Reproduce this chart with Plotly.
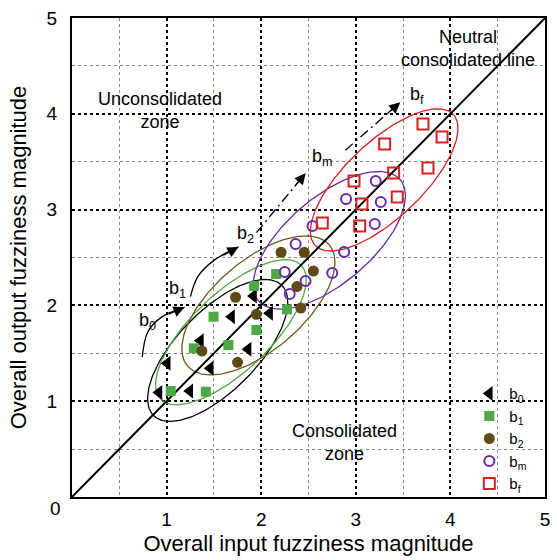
import numpy as np
import plotly.graph_objects as go

# ---- data ----
b0_x = [0.92, 1.245, 1.007, 1.461, 1.357, 1.862, 1.687, 1.919, 2.089]
b0_y = [1.09, 1.106, 1.396, 1.343, 1.632, 1.542, 1.882, 2.098, 1.918]
b1_x = [1.043, 1.415, 1.287, 1.653, 1.496, 1.949, 1.925, 2.158, 2.273]
b1_y = [1.106, 1.099, 1.552, 1.587, 1.882, 1.743, 2.203, 2.328, 1.959]
b2_x = [1.373, 1.75, 1.729, 1.949, 2.21, 2.455, 2.552, 2.378, 2.419]
b2_y = [1.524, 1.406, 2.085, 1.907, 2.554, 2.554, 2.359, 2.197, 1.973]
bm_x = [2.542, 2.364, 2.877, 2.249, 2.751, 2.469, 2.301, 3.211, 2.897, 3.264, 3.201]
bm_y = [2.829, 2.641, 2.557, 2.349, 2.338, 2.255, 2.119, 3.299, 3.111, 3.079, 2.850]
bf_x = [3.710, 3.912, 3.305, 3.763, 3.400, 2.981, 3.438, 3.065, 2.646, 3.041]
bf_y = [3.894, 3.758, 3.685, 3.434, 3.382, 3.299, 3.132, 3.058, 2.860, 2.829]

series_names = ["b<sub>0</sub>", "b<sub>1</sub>", "b<sub>2</sub>", "b<sub>m</sub>", "b<sub>f</sub>"]

# confidence ellipses: centre x, centre y, semi-major, semi-minor, angle (deg)
ell_cx = [1.54, 1.68, 1.97, 2.72, 3.30]
ell_cy = [1.53, 1.72, 2.00, 2.68, 3.31]
ell_a = [0.96, 1.02, 0.98, 0.98, 1.00]
ell_b = [0.42, 0.41, 0.47, 0.45, 0.40]
ell_ang = [45, 43, 40, 40, 43]

tick_vals = [1, 2, 3, 4, 5]
minor_vals = [0.5, 1.5, 2.5, 3.5, 4.5]

# evolution arrows (curves) and labels
arc_b0_x = [0.743, 0.80, 0.95, 1.19]
arc_b0_y = [1.461, 1.72, 1.88, 1.98]
arc_b1_x = [1.252, 1.33, 1.50, 1.76]
arc_b1_y = [2.091, 2.30, 2.47, 2.61]
dd1_x = [1.95, 2.47]
dd1_y = [2.76, 3.38]
dd2_x = [2.89, 3.47]
dd2_y = [3.62, 4.12]
lab_x = [0.795, 1.119, 1.83, 2.646, 3.65]
lab_y = [1.827, 2.161, 2.745, 3.539, 4.196]

colors = ["#000000", "#4ea844", "#5e4a15", "#6a2aa8", "#d82020"]
ell_colors = ["#000000", "#4ea844", "#6e5a1e", "#6a2aa8", "#d82020"]

FONT = "Liberation Sans, Arial, sans-serif"
fig = go.Figure()

t = np.linspace(0, 2 * np.pi, 200)
for cx, cy, a, b, ang, c in zip(ell_cx, ell_cy, ell_a, ell_b, ell_ang, ell_colors):
    th = np.deg2rad(ang)
    ex = cx + a * np.cos(t) * np.cos(th) - b * np.sin(t) * np.sin(th)
    ey = cy + a * np.cos(t) * np.sin(th) + b * np.sin(t) * np.cos(th)
    fig.add_trace(go.Scatter(x=ex, y=ey, mode="lines", line=dict(color=c, width=1.3),
                             showlegend=False, hoverinfo="skip"))

# neutral line
fig.add_trace(go.Scatter(x=[0, 5], y=[0, 5], mode="lines", line=dict(color="black", width=2),
                         showlegend=False, hoverinfo="skip"))

# arcs
for ax_, ay_ in [(arc_b0_x, arc_b0_y), (arc_b1_x, arc_b1_y)]:
    fig.add_trace(go.Scatter(x=ax_, y=ay_, mode="lines", line=dict(color="black", width=1.3, shape="spline"),
                             showlegend=False, hoverinfo="skip"))
for dx, dy in [(dd1_x, dd1_y), (dd2_x, dd2_y)]:
    fig.add_trace(go.Scatter(x=dx, y=dy, mode="lines", line=dict(color="black", width=1.3, dash="10px,4px,2px,4px"),
                             showlegend=False, hoverinfo="skip"))

# arrowheads
for hx, hy, tx, ty in [(arc_b0_x[-1], arc_b0_y[-1], arc_b0_x[-2], arc_b0_y[-2]),
                       (arc_b1_x[-1], arc_b1_y[-1], arc_b1_x[-2], arc_b1_y[-2]),
                       (dd1_x[-1], dd1_y[-1], dd1_x[0], dd1_y[0]),
                       (dd2_x[-1], dd2_y[-1], dd2_x[0], dd2_y[0])]:
    d = np.hypot(hx - tx, hy - ty)
    ux, uy = (hx - tx) / d, (hy - ty) / d
    fig.add_annotation(x=hx, y=hy, ax=hx - 0.2 * ux, ay=hy - 0.2 * uy,
                       xref="x", yref="y", axref="x", ayref="y", text="", showarrow=True,
                       arrowhead=2, arrowsize=1.7, arrowwidth=1.3, arrowcolor="black")

# data series
fig.add_trace(go.Scatter(x=b0_x, y=b0_y, mode="markers", name=series_names[0],
                         marker=dict(symbol="triangle-left", size=13, color=colors[0])))
fig.add_trace(go.Scatter(x=b1_x, y=b1_y, mode="markers", name=series_names[1],
                         marker=dict(symbol="square", size=10, color=colors[1])))
fig.add_trace(go.Scatter(x=b2_x, y=b2_y, mode="markers", name=series_names[2],
                         marker=dict(symbol="circle", size=11, color=colors[2])))
fig.add_trace(go.Scatter(x=bm_x, y=bm_y, mode="markers", name=series_names[3],
                         marker=dict(symbol="circle-open", size=10, color=colors[3], line=dict(width=2))))
fig.add_trace(go.Scatter(x=bf_x, y=bf_y, mode="markers", name=series_names[4],
                         marker=dict(symbol="square-open", size=11, color=colors[4], line=dict(width=2))))

# labels for arrows
for lx, ly, txt in zip(lab_x, lab_y, series_names):
    fig.add_annotation(x=lx, y=ly, text=txt, showarrow=False, font=dict(family=FONT, size=18, color="black"))

# zone texts
fig.add_annotation(x=(161 - 72) / 95.6, y=(497 - 110) / 95.8, text="Unconsolidated<br>zone", showarrow=False,
                   font=dict(family=FONT, size=18, color="black"))
fig.add_annotation(x=(347 - 72) / 95.6, y=(497 - 442) / 95.8, text="Consolidated<br>zone", showarrow=False,
                   font=dict(family=FONT, size=18, color="black"))
fig.add_annotation(x=(472 - 72) / 95.6, y=(497 - 48) / 95.8, text="Neutral<br>consolidated line", showarrow=False,
                   font=dict(family=FONT, size=18, color="black"))
fig.add_annotation(x=0, y=0, xref="paper", yref="paper", text="0", showarrow=False,
                   xanchor="right", yanchor="middle", xshift=-9, yshift=-11,
                   font=dict(family=FONT, size=19, color="black"))

def axis_common(ticklen):
    return dict(range=[0, 5], tickvals=tick_vals, showline=True, mirror=True, linecolor="black",
                linewidth=2, showgrid=True, gridcolor="black", griddash="dot", gridwidth=1.5,
                zeroline=False, ticks="outside", ticklen=ticklen, tickcolor="rgba(0,0,0,0)",
                tickfont=dict(family=FONT, size=19, color="black"),
                minor=dict(tickvals=minor_vals, showgrid=True, gridcolor="#888", griddash="dot",
                           gridwidth=1, ticks=""))

fig.update_layout(
    width=557, height=560,
    margin=dict(l=72, r=7, t=18, b=63),
    plot_bgcolor="white", paper_bgcolor="white",
    font=dict(family=FONT, size=16, color="black"),
    xaxis=dict(**axis_common(4), title=dict(text="Overall input fuzziness magnitude",
                                            font=dict(family=FONT, size=22), standoff=7)),
    yaxis=dict(**axis_common(9), title=dict(text="Overall output fuzziness magnitude",
                                            font=dict(family=FONT, size=22), standoff=14)),
    legend=dict(x=0.84, y=0.25, xanchor="left", yanchor="top", bgcolor="rgba(0,0,0,0)",
                font=dict(family=FONT, size=15), itemwidth=30, tracegroupgap=0),
    showlegend=True,
)

fig.write_html("out.html")
